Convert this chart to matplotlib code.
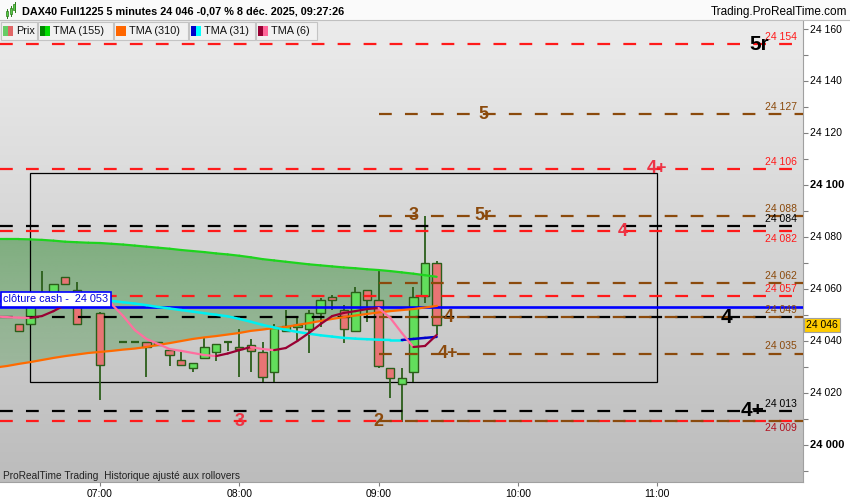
import numpy as np
import matplotlib
matplotlib.use("Agg")
import matplotlib.pyplot as plt
from matplotlib.patches import Rectangle
from matplotlib.collections import LineCollection
from matplotlib.colors import LinearSegmentedColormap, to_rgb
from matplotlib.transforms import blended_transform_factory

plt.rcParams['font.family'] = ['Liberation Sans', 'DejaVu Sans']
plt.rcParams['lines.scale_dashes'] = False

# ---------------- data ----------------
candle_times = ["06:25", "06:30", "06:35", "06:40", "06:45", "06:50", "06:55", "07:00",
                "07:10", "07:15", "07:20", "07:25", "07:30", "07:35", "07:40", "07:45",
                "07:50", "07:55", "08:00", "08:05", "08:10", "08:15", "08:20", "08:25",
                "08:30", "08:35", "08:40", "08:45", "08:50", "08:55", "09:00", "09:05",
                "09:10", "09:15", "09:20", "09:25"]
opens = [24046.3, 24046.3, 24053.5, 24055.0, 24064.4, 24059.4, 24054.0, 24050.6,
         24039.5, 24039.5, 24039.4, 24038.3, 24036.3, 24032.5, 24029.4, 24033.3,
         24035.6, 24039.4, 24037.5, 24038.3, 24035.6, 24027.9, 24043.7, 24045.2,
         24044.4, 24050.6, 24056.7, 24051.7, 24043.7, 24059.4, 24055.6, 24029.4,
         24023.3, 24027.9, 24057.1, 24069.8]
highs = [24046.3, 24054.0, 24066.7, 24061.7, 24064.4, 24062.5, 24057.0, 24051.0,
         24039.5, 24039.5, 24039.4, 24039.4, 24036.3, 24035.6, 24031.3, 24041.0,
         24038.7, 24039.4, 24044.4, 24040.6, 24039.4, 24046.3, 24051.7, 24049.0,
         24051.7, 24056.3, 24057.5, 24053.7, 24060.6, 24059.4, 24066.7, 24029.4,
         24029.4, 24060.6, 24087.9, 24070.6]
lows = [24043.7, 24046.3, 24053.0, 24055.0, 24061.7, 24046.3, 24053.5, 24017.1,
        24039.5, 24039.5, 24026.0, 24038.3, 24030.2, 24030.6, 24027.9, 24033.3,
        24032.1, 24036.0, 24026.0, 24027.9, 24024.0, 24024.0, 24043.7, 24040.2,
        24035.2, 24045.2, 24051.7, 24039.0, 24043.7, 24047.1, 24029.4, 24017.9,
        24008.7, 24024.0, 24054.4, 24042.1]
closes = [24043.7, 24053.5, 24056.0, 24061.7, 24061.7, 24046.3, 24056.0, 24030.6,
          24039.5, 24039.5, 24037.5, 24039.4, 24034.4, 24030.6, 24031.3, 24037.5,
          24038.7, 24039.4, 24036.7, 24036.0, 24026.0, 24044.8, 24045.6, 24045.9,
          24050.6, 24055.6, 24055.6, 24044.4, 24058.7, 24055.6, 24030.2, 24025.6,
          24025.6, 24056.7, 24069.8, 24046.0]

ma_times = ["06:15", "06:20", "06:25", "06:30", "06:35", "06:40", "06:45", "06:50",
            "06:55", "07:00", "07:05", "07:10", "07:15", "07:20", "07:25", "07:30",
            "07:35", "07:40", "07:45", "07:50", "07:55", "08:00", "08:05", "08:10",
            "08:15", "08:20", "08:25", "08:30", "08:35", "08:40", "08:45", "08:50",
            "08:55", "09:00", "09:05", "09:10", "09:15", "09:20", "09:25"]
tma155 = [24079.0, 24079.0, 24079.0, 24078.9, 24078.7, 24078.4, 24078.0, 24077.8,
          24077.6, 24077.5, 24077.2, 24076.9, 24076.5, 24076.1, 24075.7, 24075.3,
          24074.8, 24074.4, 24074.0, 24073.5, 24073.1, 24072.6, 24072.0, 24071.3,
          24070.8, 24070.3, 24069.8, 24069.3, 24068.9, 24068.5, 24068.1, 24067.8,
          24067.4, 24067.1, 24066.7, 24066.2, 24065.7, 24065.1, 24064.5]
tma310 = [24029.6, 24030.2, 24031.0, 24031.7, 24032.5, 24033.3, 24034.0, 24034.6,
          24035.2, 24035.6, 24036.0, 24036.5, 24036.9, 24037.5, 24038.3, 24039.0,
          24039.8, 24040.6, 24041.2, 24041.7, 24042.3, 24042.9, 24043.7, 24044.2,
          24044.8, 24045.2, 24046.0, 24046.7, 24047.5, 24048.3, 24049.0, 24049.6,
          24050.2, 24050.8, 24051.3, 24051.7, 24052.1, 24052.7, 24053.3]
tma31 = [24055.0, 24055.3, 24055.6, 24055.9, 24056.2, 24056.5, 24056.6, 24056.5,
         24056.2, 24055.7, 24055.2, 24054.7, 24054.2, 24053.6, 24052.9, 24052.3,
         24051.7, 24051.1, 24050.5, 24049.9, 24049.3, 24048.3, 24047.2, 24046.0,
         24045.0, 24044.1, 24043.3, 24042.6, 24042.0, 24041.5, 24041.0, 24040.7,
         24040.5, 24040.3, 24040.2, 24040.2, 24040.6, 24041.0, 24041.4]
tma6 = [24049.2, 24049.0, 24048.8, 24048.7, 24049.4, 24051.3, 24053.7, 24055.6,
        24056.7, 24056.3, 24054.0, 24049.4, 24044.0, 24040.6, 24038.7, 24036.7,
        24036.0, 24035.2, 24034.4, 24034.0, 24035.0, 24036.3, 24037.5, 24036.7,
        24036.3, 24037.1, 24039.8, 24042.9, 24046.3, 24049.4, 24050.6, 24051.3,
        24052.1, 24052.5, 24048.7, 24042.9, 24037.5, 24037.9, 24042.1]

level_prices = [24154, 24127, 24106, 24088, 24084, 24082, 24062, 24057,
                24049, 24049, 24035, 24013, 24009, 24009]
level_kinds = ["red", "brown", "red", "brown", "black", "red", "brown", "red",
               "black", "brown", "brown", "black", "red", "brown"]
level_starts = [None, "09:00", None, "09:00", None, None, "09:00", None,
                None, "09:00", "09:00", None, None, "09:00"]

value_label_texts = ["24 154", "24 127", "24 106", "24 088", "24 084", "24 082",
                     "24 062", "24 057", "24 049", "24 035", "24 013", "24 009"]
value_label_prices = [24154, 24127, 24106, 24088, 24084, 24082,
                      24062, 24057, 24049, 24035, 24013, 24009]
value_label_kinds = ["red", "brown", "red", "brown", "black", "red",
                     "brown", "red", "brown", "brown", "black", "darkred"]
value_label_below = [False, False, False, False, False, True,
                     False, False, False, False, False, True]

tag_texts = ["5r", "5", "4+", "3", "5r", "4", "4", "4", "4+", "4+", "3", "2"]
tag_times = ["11:44", "09:45", "11:00", "09:15", "09:45", "10:45", "11:30", "09:30",
             "09:30", "11:41", "08:00", "09:00"]
tag_prices = [24154, 24127, 24106, 24088, 24088, 24082, 24049, 24049,
              24035, 24013, 24009, 24009]
tag_kinds = ["black", "brown", "redtag", "brown", "brown", "redtag", "black", "brown",
             "brown", "black", "redtag", "brown"]

box_times = ["06:30", "11:00"]
box_prices = [24024.0, 24104.5]
cash_close = 24053
last_price = 24046
xtick_labels = ["07:00", "08:00", "09:00", "10:00", "11:00"]

# ---------------- helpers ----------------
def tmin(s):
    h, m = s.split(":")
    return (int(h) - 7) * 60 + int(m)

COL = {"red": "#ff1a1a", "brown": "#8b4a0c", "black": "#000000",
       "darkred": "#b0101e", "redtag": "#ee3344"}

W, H = 850, 500
fig = plt.figure(figsize=(8.5, 5.0), dpi=100, facecolor="white")
AX_L, AX_R, AX_T, AX_B = 0, 803, 20, 482
ax = fig.add_axes([AX_L / W, 1 - AX_B / H, (AX_R - AX_L) / W, (AX_B - AX_T) / H])

PX_PER_MIN = 139.3 / 60.0
X0 = -100 / PX_PER_MIN
X1 = (AX_R - 100) / PX_PER_MIN
Y0 = 24000 - (AX_B - 444.5) / 2.6
Y1 = 24000 + (444.5 - AX_T) / 2.6

# background gradient
bg = LinearSegmentedColormap.from_list("bg", ["#ececec", "#bcbcbc"])
ax.imshow(np.linspace(0, 1, 256).reshape(-1, 1), extent=[X0, X1, Y0, Y1],
          aspect="auto", cmap=bg, zorder=0, interpolation="bilinear")

mx = np.array([tmin(t) for t in ma_times], dtype=float)
t155 = np.array(tma155); t310 = np.array(tma310)

# cloud fill between TMA155 and TMA310
fb = ax.fill_between(mx, t155, t310, facecolor="none", edgecolor="none", zorder=1)
rgba = np.zeros((256, 1, 4))
rgba[..., :3] = to_rgb("#3a8f3a")
rgba[:, 0, 3] = np.linspace(0.55, 0.3, 256)
im = ax.imshow(rgba, extent=[mx[0], mx[-1], t310.min(), t155.max()], aspect="auto",
               zorder=1, interpolation="bilinear")
im.set_clip_path(fb.get_paths()[0], transform=ax.transData)

# box
bx0, bx1 = tmin(box_times[0]), tmin(box_times[1])
ax.add_patch(Rectangle((bx0, box_prices[0]), bx1 - bx0, box_prices[1] - box_prices[0],
                       fill=False, ec="black", lw=0.9, zorder=2))

# candles
cx = np.array([tmin(t) for t in candle_times], dtype=float)
bw = 3.6
edge = "#2b5e1a"
for x, o, h, l, c in zip(cx, opens, highs, lows, closes):
    ax.plot([x, x], [l, h], color=edge, lw=1.3, zorder=3, solid_capstyle="butt")
    if abs(c - o) < 0.3:
        ax.plot([x - bw / 2, x + bw / 2], [o, o], color=edge, lw=1.6, zorder=3,
                solid_capstyle="butt")
    else:
        fc = "#62de5c" if c > o else "#e87474"
        ax.add_patch(Rectangle((x - bw / 2, min(o, c)), bw, abs(c - o),
                               fc=fc, ec=edge, lw=1.0, zorder=3))

# levels
for p, k, s in zip(level_prices, level_kinds, level_starts):
    xs = X0 if s is None else tmin(s)
    ax.plot([xs, X1], [p, p], color=COL[k], lw=1.6, zorder=4,
            linestyle=(0, (9.2, 9.5)), solid_capstyle="butt", dash_capstyle="butt")

# cash close line
ax.plot([X0, X1], [cash_close, cash_close], color="#0000ff", lw=1.9, zorder=4)

# moving averages
def two_color(x, y, up, down, lw, z):
    pts = np.column_stack([x, y])
    segs = np.stack([pts[:-1], pts[1:]], axis=1)
    cols = [up if y[i + 1] > y[i] else down for i in range(len(y) - 1)]
    ax.add_collection(LineCollection(segs, colors=cols, linewidths=lw, zorder=z,
                                     capstyle="round", joinstyle="round"))

two_color(mx, t155, "#008800", "#1ed41e", 1.6, 5)
ax.plot(mx, t310, color="#ff6a00", lw=1.6, zorder=5)
two_color(mx, np.array(tma31), "#0000cc", "#00f0f0", 1.8, 5)
two_color(mx, np.array(tma6), "#990033", "#ff6f9f", 1.6, 5)

# value labels at right
blend = blended_transform_factory(ax.transAxes, ax.transData)
for t, p, k, below in zip(value_label_texts, value_label_prices, value_label_kinds,
                          value_label_below):
    if below:
        ax.text(797 / AX_R, p - 0.9, t, transform=blend, ha="right", va="top",
                fontsize=7.5, color=COL[k], zorder=6)
    else:
        ax.text(797 / AX_R, p + 0.8, t, transform=blend, ha="right", va="bottom",
                fontsize=7.5, color=COL[k], zorder=6)

# tags
for t, tm, p, k in zip(tag_texts, tag_times, tag_prices, tag_kinds):
    fs = 15 if k == "black" else 13
    ax.text(tmin(tm), p, t, ha="center", va="center", fontsize=fs,
            fontweight="bold", color=COL[k], zorder=6)

# clôture cash label
ax.add_patch(Rectangle((0.0015, cash_close), 110 / AX_R, 15 / 2.6, transform=blend,
                       fc="white", ec="#0000ff", lw=1.2, zorder=7, clip_on=False))
ax.text(55.5 / AX_R, cash_close + 7.5 / 2.6, "clôture cash -  24 053", transform=blend,
        ha="center", va="center", fontsize=7.8, color="#0000dd", zorder=8)

# current price tag on axis
ax.text(1.004, last_price, "24 046", transform=blend, ha="left", va="center",
        fontsize=7.5, color="black", zorder=9, clip_on=False,
        bbox=dict(boxstyle="square,pad=0.2", fc="#ffcc00", ec="#a0a0a0", lw=0.8))

# footer
ax.text(0.004, 0.014, "ProRealTime Trading  Historique ajusté aux rollovers",
        transform=ax.transAxes, ha="left", va="center", fontsize=7.3,
        color="#222222", zorder=6, family=["Liberation Sans Narrow", "Liberation Sans"])

# axes
ax.set_xlim(X0, X1)
ax.set_ylim(Y0, Y1)
for sp in ["top", "left"]:
    ax.spines[sp].set_visible(False)
ax.spines["right"].set_color("#a0a0a0")
ax.spines["bottom"].set_color("#a0a0a0")
ax.yaxis.tick_right()
major = list(range(24000, 24161, 20))
ax.set_yticks(major)
ax.set_yticklabels([f"{v // 1000} {v % 1000:03d}" for v in major])
ax.set_yticks(list(range(23990, 24161, 10)), minor=True)
ax.tick_params(axis="y", which="both", direction="out", length=3.5, width=0.8,
               color="#808080", labelsize=7.5, pad=1.5)
for lab in ax.get_yticklabels():
    if lab.get_text() in ("24 100", "24 000"):
        lab.set_fontweight("bold")
        lab.set_fontsize(8)
ax.set_xticks([tmin(t) for t in xtick_labels])
ax.set_xticklabels(xtick_labels)
ax.tick_params(axis="x", direction="out", length=3, width=0.8, color="#808080",
               labelsize=7.5, pad=2)

# ---------------- header ----------------
def fx(x): return x / W
def fy(y): return 1 - y / H

fig.patches.append(Rectangle((0, fy(20)), 1, 20 / H, transform=fig.transFigure,
                             fc="#fafafa", ec="none", zorder=1))
fig.lines.append(plt.Line2D([0, 1], [fy(20), fy(20)], transform=fig.transFigure,
                            color="#c0c0c0", lw=0.8, zorder=2))
# icon
for (x0, y0, y1, w0, w1) in [(5.5, 11, 16, 9, 18), (9.5, 8, 14, 6, 16), (13.5, 4, 10, 2, 12)]:
    fig.lines.append(plt.Line2D([fx(x0 + 1), fx(x0 + 1)], [fy(w1), fy(w0)],
                                transform=fig.transFigure, color="#2b7a1a", lw=0.7, zorder=3))
    fig.patches.append(Rectangle((fx(x0), fy(y1)), 2 / W, (y1 - y0) / H,
                                 transform=fig.transFigure, fc="#55cc44", ec="#2b7a1a",
                                 lw=0.5, zorder=3))
fig.text(fx(22), fy(11), "DAX40 Full1225 5 minutes 24 046 -0,07 % 8 déc. 2025, 09:27:26",
         ha="left", va="center", fontsize=7.8, fontweight="bold", color="black")
fig.text(fx(847), fy(12), "Trading.ProRealTime.com", ha="right", va="center",
         fontsize=8.5, color="black")

# legend row
legend_items = [("Prix", ["#66cc66", "#e06666"], 1, 37),
                ("TMA (155)", ["#008800", "#00dd00"], 38, 113),
                ("TMA (310)", ["#ff6600"], 114, 188),
                ("TMA (31)", ["#0000cc", "#00ffff"], 189, 255),
                ("TMA (6)", ["#990033", "#ff6699"], 256, 317)]
for name, cols, x0, x1 in legend_items:
    fig.patches.append(Rectangle((fx(x0), fy(40)), (x1 - x0) / W, 18 / H,
                                 transform=fig.transFigure, fc="#f1f1f1",
                                 ec="#c4c4c4", lw=0.8, zorder=2))
    sw = 10 / len(cols)
    for i, c in enumerate(cols):
        fig.patches.append(Rectangle((fx(x0 + 2 + i * sw), fy(35.5)), sw / W, 9.5 / H,
                                     transform=fig.transFigure, fc=c, ec="none", zorder=3))
    fig.text(fx(x0 + 15), fy(31), name, ha="left", va="center", fontsize=7.8,
             color="#111111", zorder=4)

fig.savefig("out.png", dpi=100, facecolor="white")
